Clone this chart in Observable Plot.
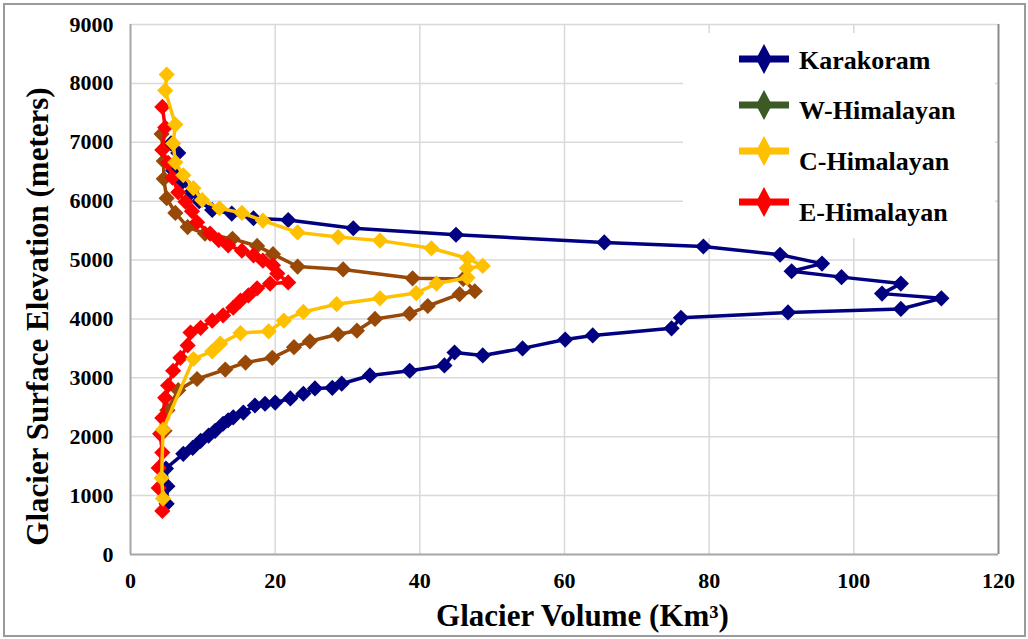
<!DOCTYPE html>
<html>
<head>
<meta charset="utf-8">
<script src="https://cdn.jsdelivr.net/npm/d3@7"></script>
<script src="https://cdn.jsdelivr.net/npm/@observablehq/plot@0.6"></script>
<style>
  html, body { margin: 0; padding: 0; background: #fff; }
  #wrap { position: relative; width: 1028px; height: 639px; overflow: hidden; font-family: "Liberation Serif", "Times New Roman", serif; }
  #border { position: absolute; left: 3px; top: 3px; width: 1019px; height: 630px; border: 2px solid #9a9a9a; pointer-events: none; }
  #legend { position: absolute; left: 683px; top: 33px; width: 312px; height: 205px; background: #fff; }
  .item { position: absolute; left: 0; width: 312px; height: 40px; }
  .item svg { position: absolute; left: 56px; }
  .item span { position: absolute; left: 116px; font-weight: bold; font-size: 26px; line-height: 30px; color: #000; white-space: nowrap; }
</style>
</head>
<body>
<div id="wrap">
  <div id="chart"></div>
  <div id="legend"></div>
  <div id="border"></div>
</div>
<script>
// ---- data (volume in km³, elevation in m) ----
const seriesNames = ["Karakoram", "W-Himalayan", "C-Himalayan", "E-Himalayan"];
const lineColors = ["#000080", "#984807", "#FFC000", "#FF0000"];
const legendColors = ["#000080", "#3B5A26", "#FFC000", "#FF0000"];

const karakoramVolume = [5.0, 5.1, 4.9, 7.3, 8.6, 9.7, 10.8, 11.7, 12.8, 13.5, 14.2, 15.6, 17.2, 18.6, 20.0, 22.1, 23.9, 25.5, 27.9, 29.2, 33.1, 38.6, 43.4, 44.8, 48.7, 54.2, 60.1, 63.9, 74.8, 76.1, 90.9, 106.5, 112.1, 103.9, 106.5, 98.3, 91.4, 95.6, 89.8, 79.2, 65.5, 45.0, 30.8, 21.8, 17.0, 14.0, 11.3, 9.5, 8.4, 7.2, 5.9, 6.6, 5.6];
const karakoramElevation = [860, 1160, 1460, 1710, 1810, 1930, 2020, 2100, 2220, 2280, 2330, 2410, 2530, 2560, 2580, 2650, 2730, 2820, 2830, 2900, 3040, 3120, 3210, 3430, 3380, 3500, 3650, 3720, 3840, 4020, 4110, 4170, 4350, 4430, 4600, 4710, 4810, 4940, 5090, 5230, 5300, 5430, 5540, 5680, 5710, 5790, 5850, 6000, 6150, 6330, 6520, 6820, 6980];

const wHimalayanVolume = [4.7, 5.1, 6.6, 9.2, 13.1, 15.9, 19.6, 22.6, 24.8, 28.7, 31.3, 33.8, 38.6, 41.1, 45.5, 47.6, 46.0, 39.0, 29.4, 23.1, 19.7, 17.5, 14.1, 10.3, 7.9, 6.2, 5.0, 4.6, 4.6, 4.3];
const wHimalayanElevation = [2100, 2450, 2790, 2980, 3140, 3260, 3340, 3520, 3620, 3740, 3800, 4000, 4090, 4220, 4420, 4470, 4680, 4690, 4840, 4890, 5100, 5240, 5360, 5450, 5560, 5800, 6050, 6380, 6680, 7140];

const cHimalayanVolume = [4.5, 4.3, 4.5, 8.7, 11.3, 12.4, 15.2, 19.1, 21.2, 23.9, 28.5, 34.5, 39.5, 42.3, 46.6, 46.5, 48.7, 46.6, 41.6, 34.5, 28.7, 23.1, 18.3, 15.4, 12.3, 9.9, 8.7, 7.3, 6.2, 5.9, 6.2, 4.8, 5.0];
const cHimalayanElevation = [950, 1300, 2120, 3320, 3450, 3580, 3760, 3790, 3970, 4120, 4250, 4350, 4440, 4600, 4700, 4860, 4900, 5030, 5200, 5330, 5390, 5470, 5670, 5800, 5880, 6020, 6220, 6440, 6660, 6980, 7300, 7880, 8150];

const eHimalayanVolume = [4.4, 3.9, 3.9, 4.4, 4.1, 4.4, 4.8, 5.2, 5.9, 6.9, 7.9, 8.3, 9.7, 11.3, 12.8, 14.2, 15.2, 16.3, 17.5, 19.3, 21.8, 20.3, 19.7, 18.3, 17.0, 15.4, 13.5, 12.2, 11.0, 9.2, 8.5, 7.6, 6.6, 5.8, 5.2, 4.4, 4.8, 4.4];
const eHimalayanElevation = [740, 1130, 1470, 1730, 2050, 2320, 2660, 2870, 3120, 3340, 3550, 3770, 3850, 3970, 4060, 4190, 4310, 4400, 4520, 4600, 4620, 4770, 4910, 4990, 5080, 5160, 5250, 5340, 5450, 5640, 5830, 5990, 6150, 6400, 6650, 6870, 7250, 7600];

const xTicks = [0, 20, 40, 60, 80, 100, 120];
const yTicks = [0, 1000, 2000, 3000, 4000, 5000, 6000, 7000, 8000, 9000];
const xTitle = "Glacier Volume (Km³)";
const yTitle = "Glacier Surface Elevation (meters)";

// ---- build tables ----
const vols = [karakoramVolume, wHimalayanVolume, cHimalayanVolume, eHimalayanVolume];
const elevs = [karakoramElevation, wHimalayanElevation, cHimalayanElevation, eHimalayanElevation];
const tables = seriesNames.map((name, i) => vols[i].map((v, j) => ({series: name, volume: v, elevation: elevs[i][j]})));
const drawOrder = [0, 1, 3, 2];
const serif = "Liberation Serif";

const seriesMarks = [];
for (const i of drawOrder) {
  seriesMarks.push(Plot.line(tables[i], {x: "volume", y: "elevation", stroke: lineColors[i], strokeWidth: 3.5, curve: "linear"}));
  seriesMarks.push(Plot.dot(tables[i], {x: "volume", y: "elevation", symbol: "diamond2", r: 7.3, fill: lineColors[i], stroke: "none"}));
}

const chart = Plot.plot({
  width: 1028,
  height: 639,
  marginLeft: 130,
  marginRight: 30,
  marginTop: 24,
  marginBottom: 85,
  style: {fontFamily: serif, fontSize: "22px", fontWeight: "bold", color: "#000", background: "transparent"},
  x: {domain: [0, 120]},
  y: {domain: [0, 9000]},
  marks: [
    Plot.gridX(xTicks.slice(1, -1), {stroke: "#D9D9D9", strokeOpacity: 1, strokeWidth: 1.5}),
    Plot.gridY(yTicks.slice(1), {stroke: "#D9D9D9", strokeOpacity: 1, strokeWidth: 1.5}),
    Plot.ruleX([0], {stroke: "#A6A6A6", strokeWidth: 2}),
    Plot.ruleX([120], {stroke: "#8C8C8C", strokeWidth: 2}),
    Plot.ruleY([0], {stroke: "#A6A6A6", strokeWidth: 2}),
    Plot.axisX(xTicks, {tickSize: 0, tickPadding: 18, label: null, fontSize: 22, fontWeight: "bold", fontFamily: serif}),
    Plot.axisY(yTicks, {tickSize: 0, tickPadding: 17, label: null, fontSize: 22, fontWeight: "bold", fontFamily: serif, tickFormat: d => String(d)}),
    ...seriesMarks,
    Plot.text([xTitle], {text: d => d, frameAnchor: "bottom", textAnchor: "middle", lineAnchor: "middle", dx: 18, dy: 62, fontSize: 31, fontWeight: "bold", fontFamily: serif}),
    Plot.text([yTitle], {text: d => d, frameAnchor: "left", textAnchor: "middle", lineAnchor: "middle", dx: -92, dy: 27, rotate: -90, fontSize: 31, fontWeight: "bold", fontFamily: serif})
  ]
});
document.getElementById("chart").appendChild(chart);

// ---- legend ----
const legend = document.getElementById("legend");
const markerY = [26, 72, 118, 169];
const textY = [28, 78, 129, 180];
seriesNames.forEach((name, i) => {
  const item = document.createElement("div");
  item.className = "item";
  item.style.top = "0px";
  const ns = "http://www.w3.org/2000/svg";
  const svg = document.createElementNS(ns, "svg");
  svg.setAttribute("width", "50");
  svg.setAttribute("height", "32");
  svg.style.top = (markerY[i] - 16) + "px";
  const line = document.createElementNS(ns, "line");
  line.setAttribute("x1", "0"); line.setAttribute("x2", "50");
  line.setAttribute("y1", "16"); line.setAttribute("y2", "16");
  line.setAttribute("stroke", legendColors[i]); line.setAttribute("stroke-width", "7");
  const poly = document.createElementNS(ns, "polygon");
  poly.setAttribute("points", "25,1 33,16 25,31 17,16");
  poly.setAttribute("fill", legendColors[i]);
  svg.appendChild(line); svg.appendChild(poly);
  const span = document.createElement("span");
  span.textContent = name;
  span.style.top = (textY[i] - 15) + "px";
  item.appendChild(svg); item.appendChild(span);
  legend.appendChild(item);
});
</script>
</body>
</html>
